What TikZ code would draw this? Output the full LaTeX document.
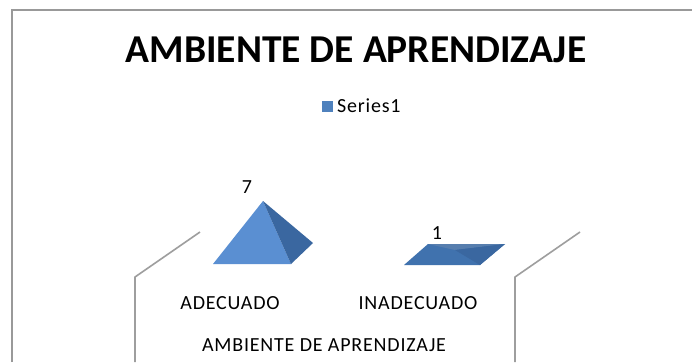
\documentclass[tikz,border=0pt]{standalone}
\usepackage{fontspec}
\setmainfont{Carlito}
\newfontfamily\spaced[LetterSpace=4]{Carlito}
\begin{document}
\begin{tikzpicture}[x=1pt,y=-1pt,
  txt/.style={inner sep=0pt,anchor=center,font=\spaced\fontsize{20}{23}\selectfont},
  wall/.style={draw=black!38,line width=1.6pt,line join=round},
  frame/.style={draw=black!40,line width=1.6pt}]
\useasboundingbox[fill=white] (0,0) rectangle (692,362);
\definecolor{lightface}{HTML}{5A8FD2}
\definecolor{darkface}{HTML}{3A67A0}
\definecolor{flatface}{HTML}{4072AE}
\definecolor{legblue}{HTML}{4F81BD}
% outer frame
\draw[frame] (12,362) -- (12,10) -- (692,10);
% walls
\draw[wall] (135,362) -- (135,277) -- (200,232);
\draw[wall] (515,362) -- (515,277) -- (580,232);
% pyramid 1
\fill[lightface] (263,201) -- (213,264) -- (291,264) -- cycle;
\fill[darkface] (263,201) -- (313,243) -- (291,264) -- cycle;
% pyramid 2 (flat)
\fill[flatface] (404,265) -- (428,244) -- (505,244) -- (480,265) -- cycle;
\fill[darkface!85!white] (428,244) -- (505,244) -- (455,250) -- cycle;
\fill[darkface] (455,250) -- (505,244) -- (480,265) -- cycle;
% title
\node[inner sep=0pt,font=\fontsize{39.5}{44}\bfseries\selectfont] (title) at (356,50) {AMBIENTE DE APRENDIZAJE};
% legend
\fill[legblue] (322,101) rectangle (333,112);
\node[txt,anchor=west] (leg) at (337,106) {Series1};
% data labels
\node[txt] (v7) at (247,187) {7};
\node[txt] (v1) at (437,233) {1};
% categories
\node[txt] (c1) at (230,303) {ADECUADO};
\node[txt] (c2) at (418,303) {INADECUADO};
\node[txt] (ax) at (324,345) {AMBIENTE DE APRENDIZAJE};
\end{tikzpicture}
\end{document}
